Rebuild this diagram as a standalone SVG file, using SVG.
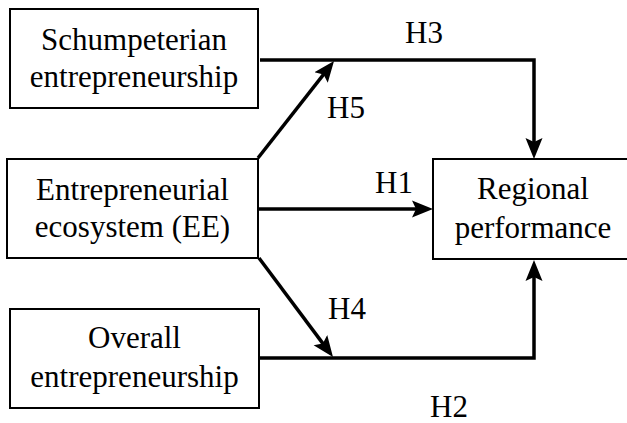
<svg xmlns="http://www.w3.org/2000/svg" width="627" height="423" viewBox="0 0 627 423">
<style>
  .box { fill: #fff; stroke: #000; stroke-width: 2; }
  .t { font-family: "Liberation Serif", "Times New Roman", serif; font-size: 31px; fill: #000; }
  .c { text-anchor: middle; }
  .conn { fill: none; stroke: #000; stroke-width: 3.5; stroke-linejoin: miter; marker-end: url(#ah); }
</style>
<defs>
  <marker id="ah" markerUnits="userSpaceOnUse" markerWidth="24" markerHeight="20" viewBox="0 -10 24 20" refX="13" refY="0" orient="auto">
    <path d="M0,-8.5 L21,0 L0,8.5 L4,0 Z" fill="#000"/>
  </marker>
</defs>
<rect width="627" height="423" fill="#fff"/>
<g id="schumpeterian">
  <rect class="box" x="10" y="9" width="248" height="99"/>
  <text class="t c" x="134" y="50">Schumpeterian</text>
  <text class="t c" x="134" y="87">entrepreneurship</text>
</g>
<g id="ecosystem">
  <rect class="box" x="7" y="159" width="251" height="99"/>
  <text class="t c" x="132.5" y="200">Entrepreneurial</text>
  <text class="t c" x="132.5" y="237">ecosystem (EE)</text>
</g>
<g id="overall">
  <rect class="box" x="10" y="309" width="249" height="99"/>
  <text class="t c" x="134.5" y="348">Overall</text>
  <text class="t c" x="134.5" y="387">entrepreneurship</text>
</g>
<g id="regional">
  <rect class="box" x="433" y="159" width="200" height="100"/>
  <text class="t c" x="533" y="199">Regional</text>
  <text class="t c" x="533" y="238">performance</text>
</g>
<g id="connectors">
  <polyline class="conn" points="260,60 534,60 534,151"/>
  <line class="conn" x1="258" y1="158" x2="329.1" y2="67.3"/>
  <line class="conn" x1="258" y1="209" x2="425" y2="209"/>
  <line class="conn" x1="259" y1="258" x2="328.2" y2="350.6"/>
  <polyline class="conn" points="259,358 534,358 534,268"/>
</g>
<g id="labels">
  <text class="t c" x="424" y="43">H3</text>
  <text class="t" x="327" y="118">H5</text>
  <text class="t" x="375" y="193">H1</text>
  <text class="t" x="328" y="319">H4</text>
  <text class="t" x="430" y="417">H2</text>
</g>
</svg>
